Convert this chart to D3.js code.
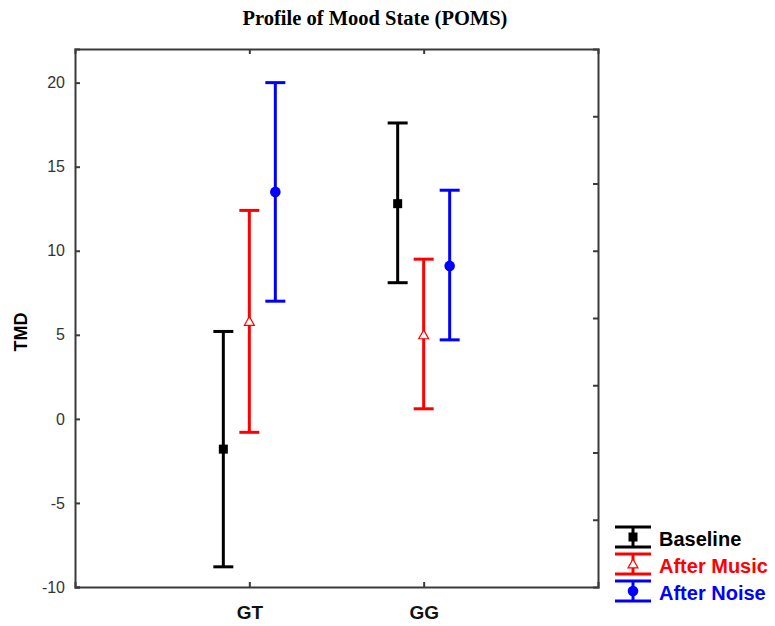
<!DOCTYPE html>
<meta charset="utf-8" />
<style>
  body { margin: 0; background: #fff; }
  svg { display: block; }
</style>
<svg width="775" height="626"></svg>
<script src="https://d3js.org/d3.v7.min.js"></script>
<script>
    var svg = d3.select("svg");

    // data
    var groups = ["GT", "GG"];
    var series = ["Baseline", "After Music", "After Noise"];
    var colors = ["#000000", "#ff0000", "#0000ff"];
    var means = [[-1.8, 12.8], [5.8, 5.0], [13.5, 9.1]];
    var lower = [[-8.8, 8.1], [-0.8, 0.6], [7.0, 4.7]];
    var upper = [[5.2, 17.6], [12.4, 9.5], [20.0, 13.6]];
    var yTicks = [-10, -5, 0, 5, 10, 15, 20];

    // note: "top" is taken by window.top, so plot edges get their own names
    var pLeft = 75, pRight = 598, pTop = 49, pBottom = 587;

    var x = d3.scalePoint().domain(groups).range([pLeft, pRight]).padding(1);
    var off = d3.scalePoint().domain(series).range([-26, 26]);
    var y = d3.scaleLinear().domain([-10, 22]).range([pBottom, pTop]);
    // right edge has its own 8 even divisions, no labels
    var yr = d3.scaleLinear().domain([0, 8]).range([pBottom, pTop]);

    svg.append("text")
        .attr("x", 375).attr("y", 25)
        .attr("text-anchor", "middle")
        .style("font-family", "'Liberation Serif', 'Times New Roman', serif")
        .style("font-weight", "bold").style("font-size", "20.5px")
        .text("Profile of Mood State (POMS)");

    var axColor = "#3a3a3a";

    var gy = svg.append("g").attr("transform", "translate(" + pLeft + ",0)")
        .call(d3.axisLeft(y).tickValues(yTicks).tickSize(-5).tickPadding(10).tickFormat(String));
    var gx = svg.append("g").attr("transform", "translate(0," + pBottom + ")")
        .call(d3.axisBottom(x).tickSize(-5).tickPadding(19));
    var gt = svg.append("g").attr("transform", "translate(0," + pTop + ")")
        .call(d3.axisTop(x).tickSize(-5).tickFormat(""));
    var gr = svg.append("g").attr("transform", "translate(" + pRight + ",0)")
        .call(d3.axisRight(yr).tickValues([1, 2, 3, 4, 5, 6, 7]).tickSize(-5).tickFormat(""));

    [gy, gx, gt, gr].forEach(function(g) {
        g.select(".domain").attr("stroke", axColor).attr("stroke-width", 2);
        g.selectAll(".tick line").attr("stroke", axColor).attr("stroke-width", 2);
    });
    gy.selectAll("text").style("font-family", "'Liberation Sans', Arial, sans-serif")
        .style("font-size", "16px").attr("fill", "#333");
    gx.selectAll("text").style("font-family", "'Liberation Sans', Arial, sans-serif")
        .style("font-size", "19px").style("font-weight", "bold").attr("fill", "#111");

    svg.append("text")
        .attr("transform", "translate(27," + 332 + ") rotate(-90)")
        .attr("text-anchor", "middle")
        .style("font-family", "'Liberation Sans', Arial, sans-serif")
        .style("font-weight", "bold").style("font-size", "18px")
        .text("TMD");

    function marker(g, i, cx, cy, s) {
        if (i === 0) {
            g.append("rect").attr("x", cx - s).attr("y", cy - s)
                .attr("width", 2 * s).attr("height", 2 * s).attr("fill", colors[0]);
        } else if (i === 1) {
            var h = s * 1.1;
            g.append("path")
                .attr("d", "M" + cx + "," + (cy - h) + "L" + (cx + h) + "," + (cy + h * 0.8) + "L" + (cx - h) + "," + (cy + h * 0.8) + "Z")
                .attr("fill", "#fff").attr("stroke", colors[1]).attr("stroke-width", 1.2);
        } else {
            g.append("circle").attr("cx", cx).attr("cy", cy).attr("r", s + 0.8).attr("fill", colors[2]);
        }
    }

    var bars = svg.append("g");
    series.forEach(function(s, i) {
        groups.forEach(function(gname, j) {
            var cx = x(gname) + off(s);
            var g = bars.append("g");
            g.append("line").attr("x1", cx).attr("x2", cx)
                .attr("y1", y(lower[i][j])).attr("y2", y(upper[i][j]))
                .attr("stroke", colors[i]).attr("stroke-width", 3);
            [lower[i][j], upper[i][j]].forEach(function(v) {
                g.append("line").attr("x1", cx - 10).attr("x2", cx + 10)
                    .attr("y1", y(v)).attr("y2", y(v))
                    .attr("stroke", colors[i]).attr("stroke-width", 3);
            });
            marker(g, i, cx, y(means[i][j]), 4.5);
        });
    });

    // legend
    var lg = svg.append("g");
    series.forEach(function(s, i) {
        var cy = 537 + i * 27, lx = 633;
        lg.append("line").attr("x1", lx).attr("x2", lx).attr("y1", cy - 10).attr("y2", cy + 10)
            .attr("stroke", colors[i]).attr("stroke-width", 3);
        [cy - 10, cy + 10].forEach(function(v) {
            lg.append("line").attr("x1", lx - 18).attr("x2", lx + 18).attr("y1", v).attr("y2", v)
                .attr("stroke", colors[i]).attr("stroke-width", 3);
        });
        marker(lg, i, lx, cy, 4.5);
        lg.append("text").attr("x", 659).attr("y", cy + 2).attr("dy", "0.35em")
            .style("font-family", "'Liberation Sans', Arial, sans-serif")
            .style("font-weight", "bold").style("font-size", "20px")
            .attr("fill", colors[i]).text(s);
    });
</script>
